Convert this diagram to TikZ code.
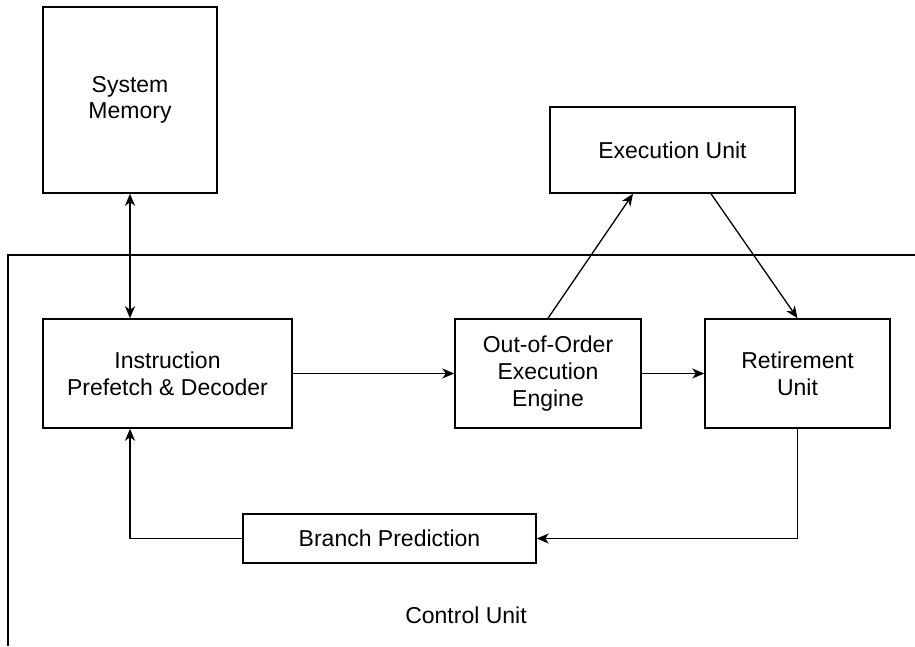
\documentclass[tikz,border=0pt]{standalone}
\usepackage{fontspec}
\setmainfont{Liberation Sans}
\usetikzlibrary{arrows.meta,calc}
\begin{document}
\begin{tikzpicture}[x=1pt,y=-1pt,
  every node/.style={font=\fontsize{23pt}{26.7pt}\selectfont, inner sep=0pt},
  blk/.style={draw, line width=1.5pt, align=center},
  tip/.style={},
  conn/.style={line width=1.3pt, -{Stealth[length=12pt,width=10pt,inset=3.5pt]}},
  frame/.style={line width=1.4pt}]
\useasboundingbox (0,0) rectangle (915,646);
\node[blk, minimum width=174pt, minimum height=186pt] (mem) at (130,100) {System\\Memory};
\node[blk, minimum width=245pt, minimum height=86pt] (exec) at (672.5,150) {Execution Unit};
\node[blk, minimum width=249pt, minimum height=109pt] (ipd) at (167.5,373.5) {Instruction\\Prefetch \& Decoder};
\node[blk, minimum width=186pt, minimum height=109pt] (ooo) at (548,373.5) {Out-of-Order\\Execution\\Engine};
\node[blk, minimum width=185pt, minimum height=109pt] (ret) at (797.5,373.5) {Retirement\\Unit};
\node[blk, minimum width=293pt, minimum height=49pt] (bp) at (389.5,538.5) {Branch Prediction};
\node (cu) at (466,615) {Control Unit};
\coordinate (ftr) at (915,255);
\coordinate (ftl) at (8,255);
\coordinate (fbl) at (8,646);
\draw[frame] (ftr) -- (ftl) -- (fbl);
\draw[conn, {Stealth[length=12pt,width=10pt,inset=3.5pt]}-{Stealth[length=12pt,width=10pt,inset=3.5pt]}] (mem.south) -- (mem.south |- ipd.north);
\draw[conn] (ipd.east) -- (ooo.west);
\draw[conn] (ooo.east) -- (ret.west);
\draw[conn] (ooo.north) -- ($(exec.south)+(-39.5,0)$);
\draw[conn] ($(exec.south)+(38.5,0)$) -- (ret.north);
\draw[conn] (ret.south) |- (bp.east);
\draw[conn] (bp.west) -| (mem.south |- ipd.south);
\end{tikzpicture}
\end{document}
